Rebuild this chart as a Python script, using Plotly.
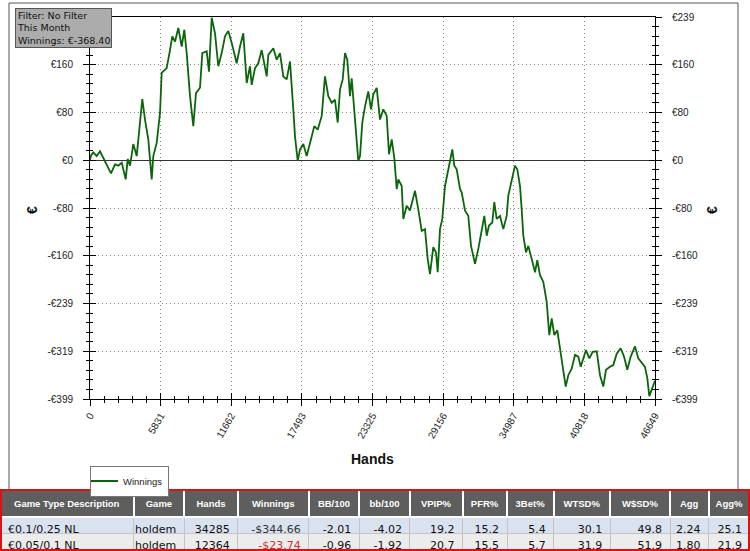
import plotly.graph_objects as go

# winnings curve (hands, euro)
hands_data = [0, 83, 272, 553, 826, 1098, 1379, 1734, 2064, 2337, 2617, 2948, 3113, 3303,
              3575, 3856, 4128, 4318, 4541, 4813, 5094, 5226, 5507, 5780, 5920, 6333, 6605,
              6795, 7018, 7291, 7571, 7786, 7984, 8257, 8529, 8752, 9082, 9272, 9635, 9825,
              10048, 10321, 10593, 10874, 11146, 11419, 11700, 12112, 12385, 12657, 12938,
              13210, 13351, 13623, 13896, 14177, 14590, 14722, 15134, 15415, 15687, 15960,
              16241, 16513, 16785, 16926, 17149, 17339, 17611, 17892, 18247, 18520, 18800,
              19131, 19403, 19676, 19956, 20228, 20451, 20641, 20864, 21054, 21244, 21467,
              21607, 21880, 22152, 22293, 22483, 22705, 22978, 23201, 23391, 23672, 23944,
              24217, 24497, 24687, 24910, 25124, 25323, 25455, 25736, 25868, 26149, 26421,
              26694, 26834, 27106, 27387, 27659, 27882, 28072, 28345, 28568, 28708, 28898,
              29088, 29311, 29583, 29782, 29914, 30079, 30277, 30549, 30690, 30962, 31235,
              31458, 31788, 32061, 32341, 32556, 32754, 32943, 33216, 33381, 33579, 33852,
              34124, 34405, 34537, 34818, 35090, 35280, 35503, 35643, 35775, 35998, 36188,
              36469, 36741, 36931, 37154, 37426, 37707, 37922, 38120, 38335, 38582, 38805,
              39028, 39276, 39491, 39772, 40044, 40317, 40515, 40730, 40953, 41225, 41506,
              41836, 42108, 42381, 42604, 42934, 43207, 43487, 43817, 44090, 44362, 44643,
              44998, 45270, 45551, 45823, 46013, 46178, 46377, 46566, 46649]
winnings_data = [0, 8, 13, 7, 15, 4, -9, -22, -7, -9, -4, -32, 2, -9,
                 27, 7, 63, 102, 68, 35, -32, 7, 29, 79, 146, 154, 184,
                 207, 198, 221, 190, 218, 179, 107, 57, 112, 121, 179, 182, 148,
                 238, 212, 157, 179, 207, 216, 196, 162, 190, 212, 129,
                 157, 126, 154, 162, 184, 140, 176, 187, 168, 179, 140,
                 135, 165, 85, 40, -1, 18, 27, 7, 35, 57, 51,
                 74, 140, 107, 96, 101, 63, 118, 135, 179, 168, 107,
                 137, 74, -1, 7, 63, 90, 115, 85, 110, 121, 68,
                 85, 74, 10, 35, 4, -48, -32, -43, -98, -76, -84,
                 -59, -51, -82, -118, -115, -165, -190, -145, -154, -187, -115,
                 -98, -43, -15, 7, 18, -9, -15, -48, -54, -84, -93,
                 -143, -173, -148, -118, -93, -126, -109, -104, -70, -98, -93,
                 -115, -93, -59, -32, -9, -15, -43, -82, -126, -154, -143,
                 -165, -187, -167, -192, -203, -237, -292, -264, -292, -284, -314,
                 -342, -378, -359, -348, -325, -328, -345, -331, -317, -331, -320,
                 -319, -359, -378, -350, -345, -342, -323, -314, -328, -350, -328,
                 -311, -331, -339, -345, -364, -394, -383, -370, -368.40]

x_tickvals = [0, 5831.125, 11662.25, 17493.375, 23324.5, 29155.625, 34986.75, 40817.875, 46649]
x_ticktext = ["0", "5831", "11662", "17493", "23325", "29156", "34987", "40818", "46649"]
y_tickvals = [-398.75, -319, -239.25, -159.5, -79.75, 0, 79.75, 159.5, 239.25]
y_ticktext = ["-€399", "-€319", "-€239", "-€160", "-€80", "€0", "€80", "€160", "€239"]

# stats table
table_header = ["Game Type Description", "Game", "Hands", "Winnings", "BB/100", "bb/100",
                "VPIP%", "PFR%", "3Bet%", "WTSD%", "W$SD%", "Agg", "Agg%"]
col_game_type = ["€0.1/0.25 NL", "€0.05/0.1 NL"]
col_game = ["holdem", "holdem"]
col_hands = ["34285", "12364"]
col_winnings = ["-$344.66", "-$23.74"]
col_bb100_big = ["-2.01", "-0.96"]
col_bb100_small = ["-4.02", "-1.92"]
col_vpip = ["19.2", "20.7"]
col_pfr = ["15.2", "15.5"]
col_3bet = ["5.4", "5.7"]
col_wtsd = ["30.1", "31.9"]
col_wsd = ["49.8", "51.9"]
col_agg = ["2.24", "1.80"]
col_aggp = ["25.1", "21.9"]

W, H = 750, 551
tick_font = dict(family="Liberation Sans, Arial", size=10, color="#222")
dots = "1px,3px"

fig = go.Figure()

fig.add_trace(go.Scatter(x=hands_data, y=winnings_data, mode="lines", name="Winnings",
                         line=dict(color="#0b650b", width=1.8)))

# empty traces so the extra tick axes get drawn
for xa, ya in [("x", "y2"), ("x", "y3"), ("x", "y4"), ("x2", "y")]:
    fig.add_trace(go.Scatter(x=[None], y=[None], xaxis=xa, yaxis=ya,
                             showlegend=False, hoverinfo="skip"))

cols = [col_game_type, col_game, col_hands, col_winnings, col_bb100_big, col_bb100_small,
        col_vpip, col_pfr, col_3bet, col_wtsd, col_wsd, col_agg, col_aggp]
font_colors = [["#111", "#111"] for _ in cols]
font_colors[3] = ["#333", "#c83232"]

fig.add_trace(go.Table(
    domain=dict(x=[0.0, 1.0], y=[0.0, 1 - 490 / H]),
    columnwidth=[132, 50, 53, 70, 50, 50, 52, 44, 46, 56, 59, 38, 41],
    header=dict(values=["<b>" + h + "</b>" for h in table_header],
                fill_color="#5e5e5e", line=dict(color="white", width=2),
                font=dict(family="Liberation Sans, Arial", size=9.5, color="white"),
                align="center", height=26),
    cells=dict(values=cols,
               fill_color=[["#d9e3ef", "#ececec"]] * len(cols),
               line=dict(color="#c4c4c4", width=1),
               font=dict(family="DejaVu Sans", size=11, color=font_colors),
               align=["left"] + ["right"] * 12, height=16),
))

xdom = [90 / W, 655 / W]
ydom = [1 - 399 / H, 1 - 17 / H]
yrange = [-398.75, 239.25]

fig.update_layout(
    width=W, height=H,
    margin=dict(l=0, r=0, t=0, b=0),
    paper_bgcolor="white", plot_bgcolor="white",
    xaxis=dict(domain=xdom, range=[0, 46649], anchor="y",
               tickmode="array", tickvals=x_tickvals, ticktext=x_ticktext, tickangle=-60,
               ticks="outside", ticklen=6, tickcolor="black", tickfont=tick_font,
               showline=True, linecolor="black", mirror=True,
               showgrid=True, gridcolor="#888", griddash=dots, zeroline=False,
               minor=dict(tickmode="linear", tick0=0, dtick=1166.225, ticks="outside",
                          ticklen=3, tickcolor="black", showgrid=False),
               automargin=False),
    xaxis2=dict(domain=xdom, range=[0, 46649], overlaying="x", anchor="y", side="bottom",
                tickmode="array", tickvals=x_tickvals, ticks="inside", ticklen=6,
                tickcolor="black", showticklabels=False, showgrid=False, zeroline=False,
                minor=dict(tickmode="linear", tick0=0, dtick=1166.225, ticks="inside",
                           ticklen=3, tickcolor="black", showgrid=False),
                automargin=False),
    yaxis=dict(domain=ydom, range=yrange, anchor="x",
               tickmode="array", tickvals=y_tickvals, ticktext=y_ticktext,
               ticks="outside", ticklen=6, tickcolor="black", tickfont=tick_font,
               ticklabelstandoff=8,
               showline=True, linecolor="black", mirror=True,
               showgrid=True, gridcolor="#888", griddash=dots,
               zeroline=True, zerolinecolor="#333", zerolinewidth=1,
               minor=dict(tickmode="linear", tick0=0, dtick=15.95, ticks="outside",
                          ticklen=3, tickcolor="black", showgrid=False),
               automargin=False),
    yaxis2=dict(domain=ydom, range=yrange, overlaying="y", anchor="x", side="right",
                tickmode="array", tickvals=y_tickvals, ticktext=y_ticktext,
                ticks="outside", ticklen=6, tickcolor="black", tickfont=tick_font,
                ticklabelstandoff=8, showgrid=False, zeroline=False,
                minor=dict(tickmode="linear", tick0=0, dtick=15.95, ticks="outside",
                           ticklen=3, tickcolor="black", showgrid=False),
                automargin=False),
    yaxis3=dict(domain=ydom, range=yrange, overlaying="y", anchor="x", side="left",
                tickmode="array", tickvals=y_tickvals, ticks="inside", ticklen=6,
                tickcolor="black", showticklabels=False, showgrid=False, zeroline=False,
                minor=dict(tickmode="linear", tick0=0, dtick=15.95, ticks="inside",
                           ticklen=3, tickcolor="black", showgrid=False),
                automargin=False),
    yaxis4=dict(domain=ydom, range=yrange, overlaying="y", anchor="x", side="right",
                tickmode="array", tickvals=y_tickvals, ticks="inside", ticklen=6,
                tickcolor="black", showticklabels=False, showgrid=False, zeroline=False,
                minor=dict(tickmode="linear", tick0=0, dtick=15.95, ticks="inside",
                           ticklen=3, tickcolor="black", showgrid=False),
                automargin=False),
    showlegend=True,
    legend=dict(x=90 / W, y=1 - 481 / H, xanchor="left", yanchor="middle",
                xref="paper", yref="paper",
                bordercolor="#777", borderwidth=1, bgcolor="white",
                font=dict(family="Liberation Sans, Arial", size=9.5, color="#222"),
                itemwidth=30, tracegroupgap=0, indentation=-8),
    hovermode=False,
)

fig.add_annotation(text="Filter: No Filter<br>This Month<br>Winnings: €-368.40",
                   xref="paper", yref="paper", x=15 / W, y=1 - 8 / H,
                   xanchor="left", yanchor="top", align="left", showarrow=False,
                   bgcolor="#acacac", bordercolor="#555", borderwidth=1, borderpad=1,
                   font=dict(family="DejaVu Sans", size=9.5, color="#111"))
fig.add_annotation(text="<b>Hands</b>", xref="paper", yref="paper", x=372 / W, y=1 - 459 / H,
                   xanchor="center", yanchor="middle", showarrow=False,
                   font=dict(family="Liberation Sans, Arial", size=14, color="#111"))
for xp in [32, 712]:
    fig.add_annotation(text="<b>€</b>", xref="paper", yref="paper", x=xp / W, y=1 - 210 / H,
                       xanchor="center", yanchor="middle", showarrow=False, textangle=-90,
                       font=dict(family="Liberation Sans, Arial", size=14, color="#111"))

# outer chart frame and red table border
fig.add_shape(type="rect", xref="paper", yref="paper", x0=9 / W, x1=738 / W,
              y0=1 - 490 / H, y1=1 - 3 / H, line=dict(color="#555", width=1), layer="below")
fig.add_shape(type="rect", xref="paper", yref="paper", x0=1 / W, x1=749 / W,
              y0=1 / H, y1=1 - 490 / H, line=dict(color="#dd1111", width=2))

# the page body has a default 8px margin; drop it so the figure sits at the window corner
fig.write_html("out.html", config={"displayModeBar": False},
               post_script="document.body.style.margin='0';")
